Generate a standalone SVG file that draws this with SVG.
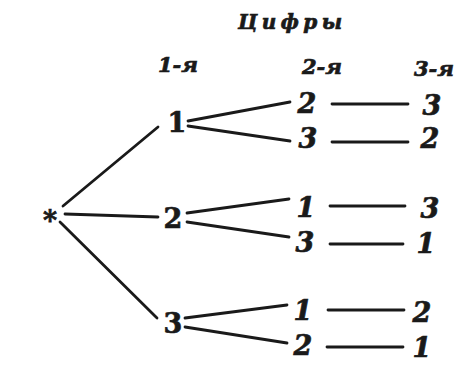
<svg xmlns="http://www.w3.org/2000/svg" width="474" height="367" viewBox="0 0 474 367">
<style>
.bg{fill:#ffffff}
.e{stroke:#1a1a1a;stroke-width:2.8;stroke-linecap:round;fill:none}
.t{font-family:"DejaVu Serif","Liberation Serif",serif;fill:#1a1a1a;stroke:#1a1a1a;stroke-width:0.7;text-anchor:middle}
.d1{font-size:27px;font-weight:bold}
.d{font-size:27px;font-weight:bold;font-style:italic}
.h{font-size:21px;font-weight:bold;font-style:italic}
.ti{font-size:20px;font-weight:bold;font-style:italic}
</style>
<rect class="bg" x="0" y="0" width="474" height="367"/>
<g id="headers">
<text class="t ti" x="290" y="29" textLength="104" lengthAdjust="spacing">Ц и ф р ы</text>
<text class="t h" x="178" y="72">1-я</text>
<text class="t h" x="322" y="74">2-я</text>
<text class="t h" x="434" y="76">3-я</text>
</g>
<g id="connectors">
<line class="e" x1="63" y1="206" x2="158" y2="127"/>
<line class="e" x1="65" y1="214" x2="158" y2="217"/>
<line class="e" x1="60" y1="222" x2="157" y2="318"/>
<line class="e" x1="188" y1="121" x2="290" y2="102"/>
<line class="e" x1="188" y1="126" x2="290" y2="141"/>
<line class="e" x1="187" y1="213" x2="289" y2="199"/>
<line class="e" x1="187" y1="222" x2="289" y2="237"/>
<line class="e" x1="185" y1="318" x2="287" y2="305"/>
<line class="e" x1="185" y1="327" x2="287" y2="343"/>
<line class="e" x1="332" y1="104" x2="408" y2="104"/>
<line class="e" x1="332" y1="142" x2="408" y2="142"/>
<line class="e" x1="330" y1="206" x2="405" y2="206"/>
<line class="e" x1="330" y1="244" x2="403" y2="244"/>
<line class="e" x1="328" y1="310" x2="404" y2="310"/>
<line class="e" x1="327" y1="347" x2="403" y2="347"/>
</g>
<g id="root"><text class="t d1" x="50" y="230" font-size="30">*</text></g>
<g id="n1"><text class="t d1" x="177" y="132">1</text></g>
<g id="n2"><text class="t d1" x="173" y="228">2</text></g>
<g id="n3"><text class="t d1" x="173" y="333">3</text></g>
<g id="n12"><text class="t d" x="307" y="113">2</text></g>
<g id="n13"><text class="t d" x="308" y="148">3</text></g>
<g id="n21"><text class="t d" x="306" y="217">1</text></g>
<g id="n23"><text class="t d" x="305" y="252">3</text></g>
<g id="n31"><text class="t d" x="303" y="320">1</text></g>
<g id="n32"><text class="t d" x="303" y="355">2</text></g>
<g id="n123"><text class="t d" x="432" y="115">3</text></g>
<g id="n132"><text class="t d" x="430" y="148">2</text></g>
<g id="n213"><text class="t d" x="430" y="218">3</text></g>
<g id="n231"><text class="t d" x="426" y="253">1</text></g>
<g id="n312"><text class="t d" x="422" y="322">2</text></g>
<g id="n321"><text class="t d" x="422" y="357">1</text></g>
</svg>
